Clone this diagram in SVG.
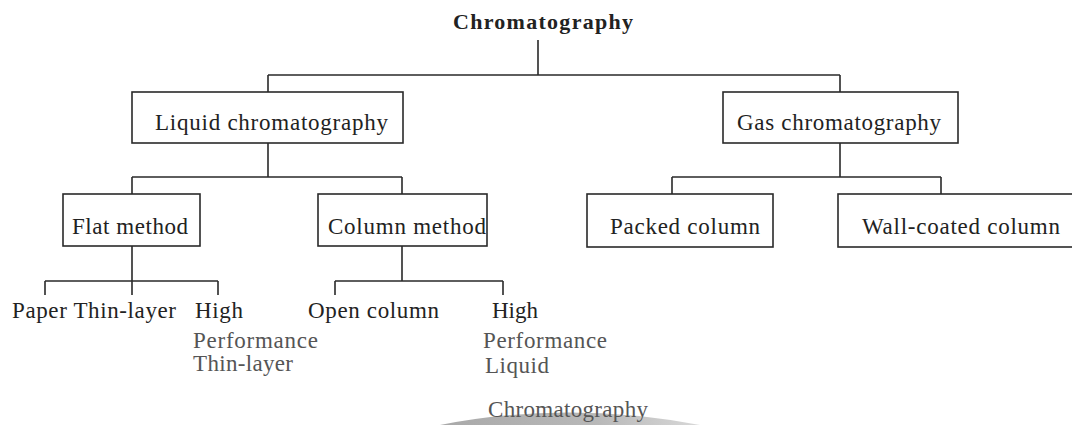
<svg xmlns="http://www.w3.org/2000/svg" width="1072" height="425" viewBox="0 0 1072 425">
  <defs>
    <style>
      .bg { fill: #ffffff; }
      .box { fill: #ffffff; stroke: #2a2a2a; stroke-width: 1.6; }
      .conn { fill: none; stroke: #2a2a2a; stroke-width: 1.6; }
      .t { font-family: "Liberation Serif", "Times New Roman", serif; font-size: 23px; fill: #222222; }
      .g { fill: #555555; }
      .title { font-weight: bold; font-size: 22px; }
    </style>
    <linearGradient id="wm" x1="0" y1="0" x2="1" y2="0">
      <stop offset="0" stop-color="#a9a9a9"/>
      <stop offset="0.6" stop-color="#b8b8b8"/>
      <stop offset="1" stop-color="#d8d8d8"/>
    </linearGradient>
  </defs>
  <rect class="bg" x="0" y="0" width="1072" height="425"/>
  <path d="M 440 425 Q 567 400 700 425 Z" fill="url(#wm)"/>

  <g id="connectors">
    <path class="conn" d="M 538 40 V 75 M 268 75 H 840 M 268 75 V 92 M 840 75 V 92"/>
    <path class="conn" d="M 268 143 V 177 M 132 177 H 402 M 132 177 V 194 M 402 177 V 194"/>
    <path class="conn" d="M 840 143 V 177 M 672 177 H 941 M 672 177 V 194 M 941 177 V 194"/>
    <path class="conn" d="M 132 246 V 295 M 45 281 H 218 M 45 281 V 295 M 218 281 V 295"/>
    <path class="conn" d="M 402 246 V 281 M 335 281 H 503 M 335 281 V 295 M 503 281 V 295"/>
  </g>

  <g id="node-chromatography">
    <text class="t title" x="453" y="29" textLength="180" lengthAdjust="spacing">Chromatography</text>
  </g>
  <g id="node-liquid">
    <rect class="box" x="132" y="92" width="271" height="51"/>
    <text class="t" x="155" y="130" textLength="233" lengthAdjust="spacing">Liquid chromatography</text>
  </g>
  <g id="node-gas">
    <rect class="box" x="723" y="92" width="235" height="51"/>
    <text class="t" x="737" y="130" textLength="204" lengthAdjust="spacing">Gas chromatography</text>
  </g>
  <g id="node-flat">
    <rect class="box" x="63" y="194" width="137" height="52"/>
    <text class="t" x="72" y="234" textLength="116" lengthAdjust="spacing">Flat method</text>
  </g>
  <g id="node-column">
    <rect class="box" x="318" y="194" width="169" height="52"/>
    <text class="t" x="328" y="234" textLength="158" lengthAdjust="spacing">Column method</text>
  </g>
  <g id="node-packed">
    <rect class="box" x="587" y="194" width="186" height="53"/>
    <text class="t" x="610" y="234" textLength="150" lengthAdjust="spacing">Packed column</text>
  </g>
  <g id="node-wall">
    <rect class="box" x="838" y="194" width="240" height="53"/>
    <text class="t" x="862" y="234" textLength="198" lengthAdjust="spacing">Wall-coated column</text>
  </g>
  <g id="node-paper-thin">
    <text class="t" x="12" y="318" textLength="164" lengthAdjust="spacing">Paper Thin-layer</text>
  </g>
  <g id="node-hptlc">
    <text class="t" x="195" y="318" textLength="48" lengthAdjust="spacing">High</text>
    <text class="t g" x="193" y="348" textLength="125" lengthAdjust="spacing">Performance</text>
    <text class="t g" x="193" y="371" textLength="100" lengthAdjust="spacing">Thin-layer</text>
  </g>
  <g id="node-open-column">
    <text class="t" x="308" y="318" textLength="131" lengthAdjust="spacing">Open column</text>
  </g>
  <g id="node-hplc">
    <text class="t" x="492" y="318" textLength="46" lengthAdjust="spacing">High</text>
    <text class="t g" x="483" y="348" textLength="124" lengthAdjust="spacing">Performance</text>
    <text class="t g" x="485" y="373" textLength="64" lengthAdjust="spacing">Liquid</text>
    <text class="t g" x="488" y="417" textLength="160" lengthAdjust="spacing">Chromatography</text>
  </g>
</svg>
